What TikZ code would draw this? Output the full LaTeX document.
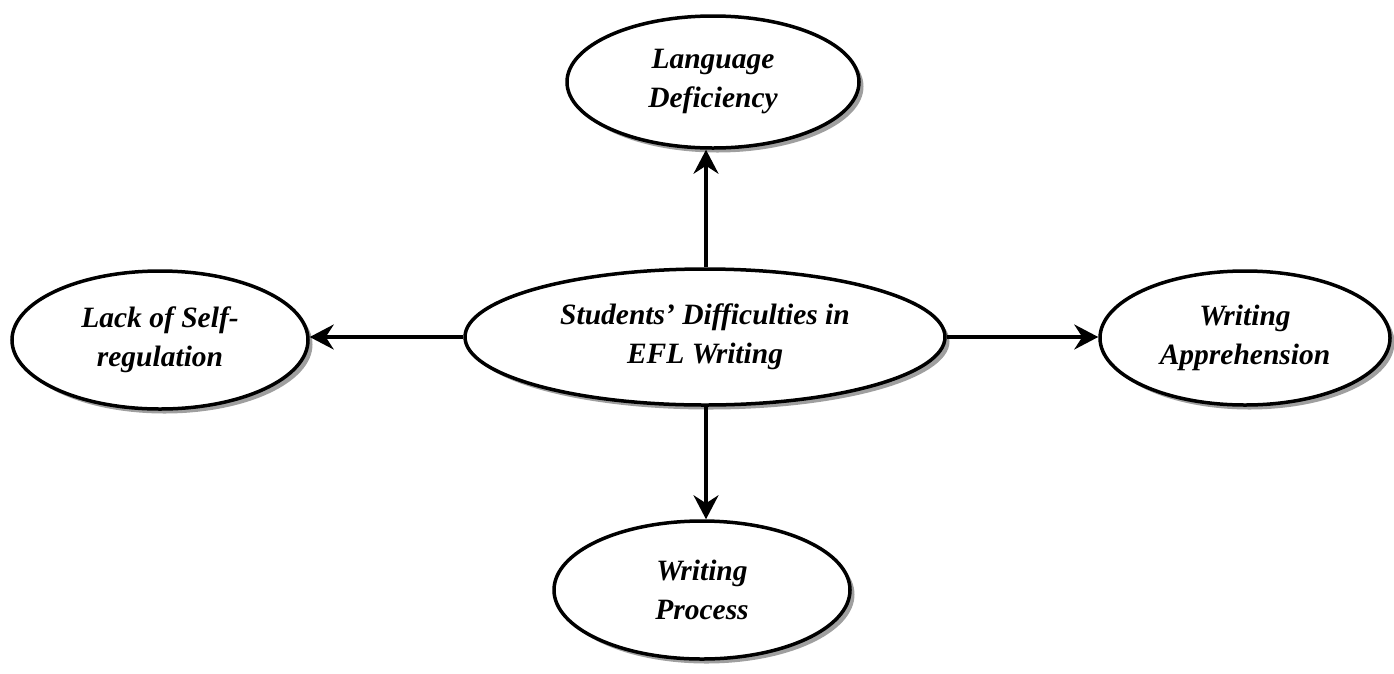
\documentclass[tikz,border=0pt]{standalone}
\usepackage{fontspec}
\setmainfont{Liberation Serif}
\usepackage{tikz}
\usetikzlibrary{shapes.geometric,shadows,arrows.meta}
\tikzset{
  topic/.style={ellipse, draw, line width=3.5pt, fill=white, inner sep=0pt,
    align=center, font=\fontsize{29.5}{39}\selectfont\bfseries\itshape,
    drop shadow={shadow xshift=4.5pt, shadow yshift=-4.5pt, fill=gray!75, opacity=1}},
  link/.style={line width=3.3pt, -{Stealth[length=24pt,width=25pt,inset=8pt]}}
}
\begin{document}
\begin{tikzpicture}[x=1pt,y=-1pt]
  \useasboundingbox (0,0) rectangle (1394,673);
  \node[topic, minimum width=480pt, minimum height=136pt] (core) at (705,337)
    {Students’ Difficulties in\\EFL Writing};
  \node[topic, minimum width=292pt, minimum height=132pt] (lang) at (713,82)
    {Language\\Deficiency};
  \node[topic, minimum width=296pt, minimum height=138pt] (self) at (160,340)
    {Lack of Self-\\regulation};
  \node[topic, minimum width=290pt, minimum height=134pt] (appr) at (1245,338)
    {Writing\\Apprehension};
  \node[topic, minimum width=296pt, minimum height=138pt] (proc) at (702,590)
    {Writing\\Process};

  \path[link]
    (core.north -| 706,0) edge (lang.south -| 706,0)
    (core.south -| 706,0) edge (proc.north -| 706,0)
    (core.west) edge (self.east |- core.west)
    (core.east) edge (appr.west |- core.east);
\end{tikzpicture}
\end{document}
